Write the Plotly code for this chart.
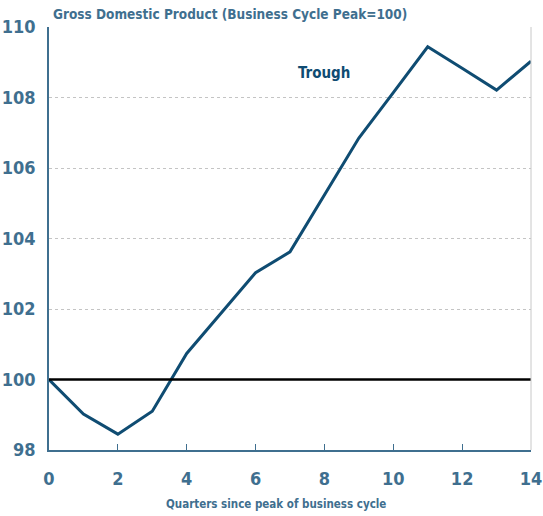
import plotly.graph_objects as go

quarters = list(range(15))
gdp = [100.0, 99.02, 98.45, 99.1, 100.74, 101.87, 103.03, 103.62, 105.24, 106.85, 108.14, 109.44, 108.83, 108.21, 109.03]
x_ticks = [0, 2, 4, 6, 8, 10, 12, 14]
y_ticks = [98, 100, 102, 104, 106, 108, 110]

label_color = "#3f6f8f"
line_color = "#0f4c72"
font_family = "DejaVu Sans Condensed, DejaVu Sans, Verdana, sans-serif"

fig = go.Figure()
fig.add_trace(go.Scatter(x=quarters, y=gdp, mode="lines",
                         line=dict(color=line_color, width=3), showlegend=False,
                         hoverinfo="skip", cliponaxis=False))

fig.add_shape(type="line", xref="x", yref="y", x0=0, x1=14, y0=100, y1=100,
              line=dict(color="black", width=2.5))
# right border
fig.add_shape(type="line", xref="paper", yref="paper", x0=1, x1=1, y0=0, y1=1,
              line=dict(color="#c8c8c8", width=1))

fig.add_annotation(x=8, y=108.7, text="<b>Trough</b>", showarrow=False,
                   font=dict(size=15, color=line_color, family=font_family))
fig.add_annotation(x=0.0, y=1.0, xref="paper", yref="paper", xanchor="left", yanchor="bottom",
                   yshift=3, xshift=2,
                   text="<b>Gross Domestic Product (Business Cycle Peak=100)</b>",
                   showarrow=False, font=dict(size=13.5, color=label_color, family=font_family))
fig.add_annotation(x=0.471, y=0, xref="paper", yref="paper", xanchor="center", yanchor="middle",
                   yshift=-54,
                   text="<b>Quarters since peak of business cycle</b>",
                   showarrow=False, font=dict(size=11.5, color=label_color, family=font_family))

fig.update_layout(
    width=543, height=516,
    margin=dict(l=49, r=12, t=27, b=66),
    plot_bgcolor="white", paper_bgcolor="white",
    xaxis=dict(range=[0, 14], tickvals=x_ticks, ticktext=[f"<b>{v}</b>" for v in x_ticks],
               automargin=False,
               showgrid=False, zeroline=False, showline=True, linecolor=label_color, linewidth=1.5,
               ticks="inside", ticklen=6, tickcolor=label_color, tickwidth=1,
               ticklabelstandoff=12,
               tickfont=dict(size=18, color=label_color, family=font_family)),
    yaxis=dict(range=[98, 110], tickvals=y_ticks, ticktext=[f"<b>{v}</b>" for v in y_ticks],
               automargin=False,
               showgrid=True, gridcolor="#c4c4c4", griddash="dot", gridwidth=1,
               zeroline=False, showline=True, linecolor=label_color, linewidth=1.5,
               ticks="", ticklabelstandoff=8,
               tickfont=dict(size=18, color=label_color, family=font_family)),
)

fig.write_html("out.html", config={"displayModeBar": False},
               post_script="document.body.style.margin='0';document.body.style.padding='0';")
